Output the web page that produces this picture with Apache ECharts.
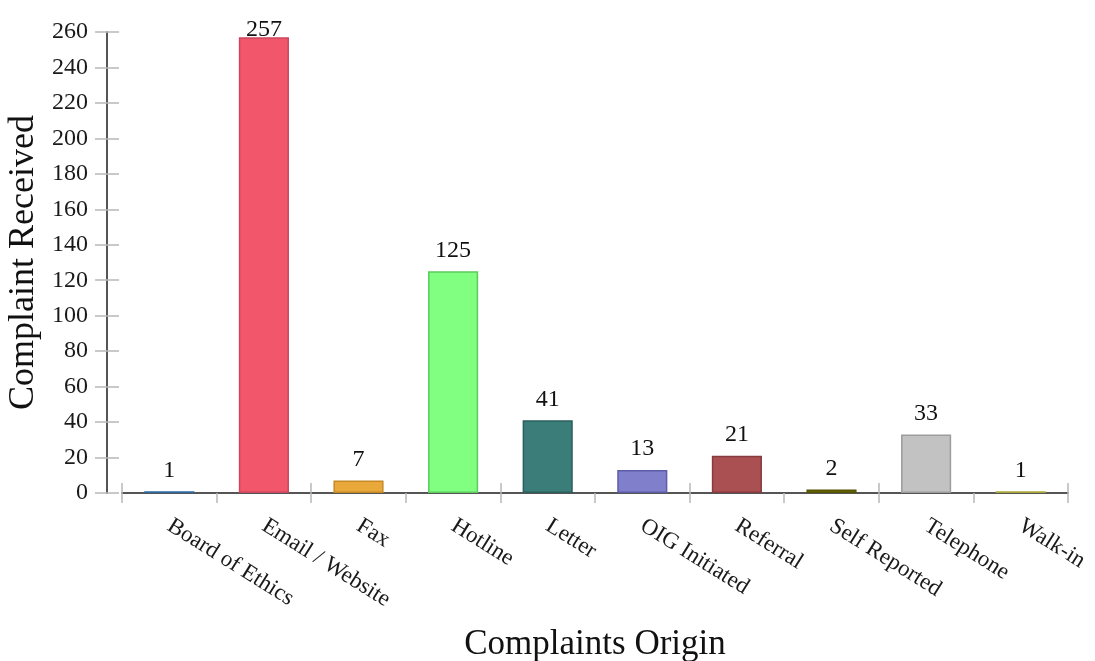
<!DOCTYPE html>
<html>
<head>
<meta charset="utf-8">
<script src="https://cdn.jsdelivr.net/npm/echarts@6/dist/echarts.min.js"></script>
<style>
  html, body { margin: 0; padding: 0; background: #fff; overflow: hidden; }
  #chart { width: 1095px; height: 661px; }
</style>
</head>
<body>
<div id="chart"></div>
<script>
// Complaints received, by origin
const categories = ['Board of Ethics', 'Email / Website', 'Fax', 'Hotline', 'Letter',
  'OIG Initiated', 'Referral', 'Self Reported', 'Telephone', 'Walk-in'];
const complaints = [1, 257, 7, 125, 41, 13, 21, 2, 33, 1];
const yTicks = { min: 0, max: 260, step: 20 };

const fills = ['#3d86c6', '#f2566b', '#e9a93a', '#80ff80', '#3b7d79',
  '#7f7fcc', '#aa4f52', '#6e6e00', '#c2c2c2', '#cccc55'];
const borders = ['#2c6aa3', '#c8485d', '#c58a26', '#5ccc5c', '#2b5f5c',
  '#5d5da8', '#873b3e', '#545400', '#9c9c9c', '#a8a83a'];

const serif = 'Liberation Serif, Times New Roman, serif';
const axisGray = '#555555';
const tickGray = '#b8b8b8';
const labelTopLimit = 18; // value labels are kept below this line

const chart = echarts.init(document.getElementById('chart'), null, { renderer: 'canvas' });

const valueAxisBase = {
  type: 'value',
  min: yTicks.min,
  max: yTicks.max,
  interval: yTicks.step,
  offset: 15,
  splitLine: { show: false }
};

chart.setOption({
  animation: false,
  backgroundColor: '#ffffff',
  grid: {
    left: 122, right: 27, top: 32, bottom: 168,
    containLabel: false,
    outerBoundsMode: 'none'
  },
  xAxis: [
    {
      type: 'category',
      data: categories,
      position: 'bottom',
      axisLine: { show: true, lineStyle: { color: axisGray, width: 2 } },
      axisTick: { show: true, inside: false, length: 10, lineStyle: { color: tickGray, width: 1.5 } },
      axisLabel: {
        rotate: -32,
        margin: 31,
        fontFamily: serif,
        fontSize: 23,
        color: '#1a1a1a'
      },
      name: 'Complaints Origin',
      nameLocation: 'middle',
      nameGap: 134,
      nameTextStyle: { fontFamily: serif, fontSize: 35, color: '#111' }
    },
    {
      // inner half of the crossing category ticks
      type: 'category',
      data: categories,
      position: 'bottom',
      axisLine: { show: false },
      axisTick: { show: true, inside: true, length: 10, lineStyle: { color: tickGray, width: 1.5 } },
      axisLabel: { show: false }
    }
  ],
  yAxis: [
    Object.assign({}, valueAxisBase, {
      position: 'left',
      axisLine: { show: true, lineStyle: { color: axisGray, width: 2 } },
      axisTick: { show: true, inside: false, length: 12, lineStyle: { color: tickGray, width: 1.5 } },
      axisLabel: { margin: 19, fontFamily: serif, fontSize: 24, color: '#1a1a1a' },
      name: 'Complaint Received',
      nameLocation: 'middle',
      nameGap: 64,
      nameTextStyle: { fontFamily: serif, fontSize: 36, color: '#111' }
    }),
    Object.assign({}, valueAxisBase, {
      // inner half of the crossing value ticks
      position: 'left',
      axisLine: { show: false },
      axisTick: { show: true, inside: true, length: 12, lineStyle: { color: tickGray, width: 1.5 } },
      axisLabel: { show: false }
    })
  ],
  series: [
    {
      type: 'bar',
      xAxisIndex: 0,
      yAxisIndex: 0,
      barWidth: '53%',
      data: complaints.map((v, i) => ({
        value: v,
        itemStyle: { color: fills[i], borderColor: borders[i], borderWidth: 1.5 }
      })),
      label: {
        show: true,
        position: 'top',
        distance: 9,
        fontFamily: serif,
        fontSize: 24,
        color: '#111'
      },
      // push labels that would rise above the chart top back down onto the bar
      labelLayout: function (params) {
        const over = labelTopLimit - params.labelRect.y;
        return over > 0 ? { dy: over } : {};
      }
    }
  ]
});
</script>
</body>
</html>
